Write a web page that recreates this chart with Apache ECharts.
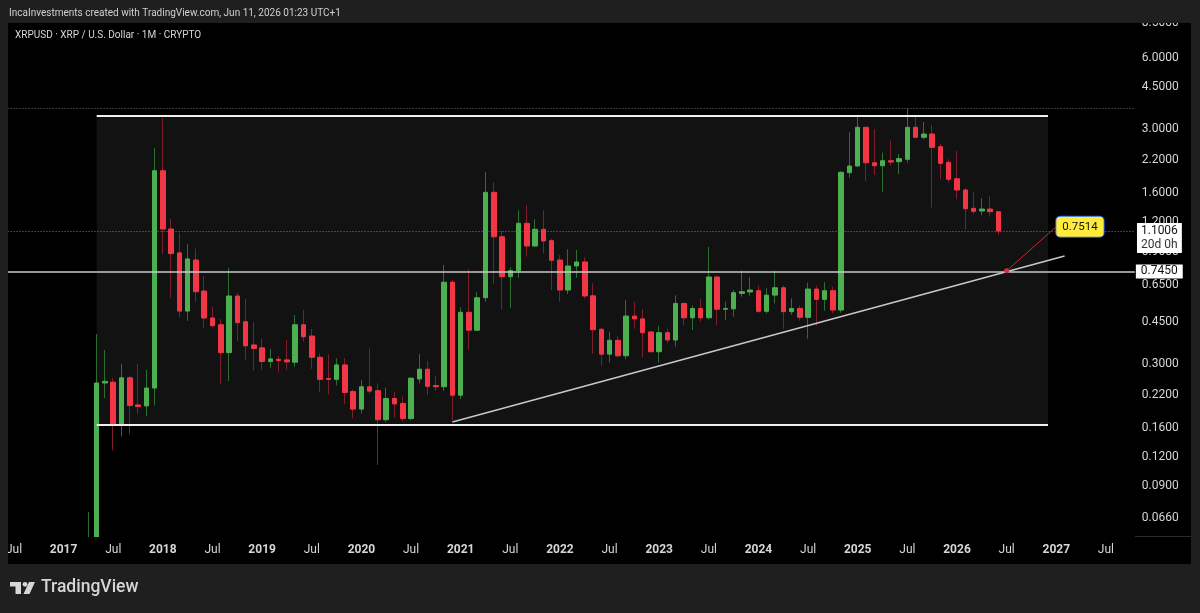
<!DOCTYPE html>
<html>
<head>
<meta charset="utf-8">
<title>XRPUSD 1M</title>
<script src="https://cdn.jsdelivr.net/npm/echarts@6/dist/echarts.min.js"></script>
<style>
  html, body { margin: 0; padding: 0; background: #1f1f1f; }
  #chart { width: 1200px; height: 613px; }
</style>
</head>
<body>
<div id="chart"></div>
<script>
// monthly candles, the first one is Apr 2017, the last one Jun 2026
const firstCandle = '2017-04';
const opens = [
  0.031, 0.052, 0.248, 0.250, 0.165, 0.261, 0.200, 0.198, 0.236,
  1.987, 1.122, 0.888, 0.502, 0.828, 0.611, 0.469, 0.439, 0.334, 0.582, 0.452, 0.360,
  0.350, 0.306, 0.313, 0.311, 0.304, 0.439, 0.393, 0.319, 0.259, 0.257, 0.296, 0.228,
  0.192, 0.239, 0.230, 0.173, 0.213, 0.203, 0.175, 0.258, 0.284, 0.242, 0.239, 0.666,
  0.220, 0.496, 0.416, 0.572, 1.608, 1.040, 0.703, 0.746, 1.187, 0.950, 1.119, 1.001,
  0.828, 0.617, 0.781, 0.812, 0.583, 0.420, 0.329, 0.377, 0.324, 0.478, 0.465, 0.409,
  0.337, 0.406, 0.378, 0.541, 0.470, 0.515, 0.470, 0.701, 0.511, 0.513, 0.597, 0.605,
  0.613, 0.501, 0.587, 0.631, 0.499, 0.515, 0.472, 0.623, 0.563, 0.613, 0.507, 1.949,
  2.081, 3.042, 2.149, 2.087, 2.192, 2.171, 2.223, 3.042, 2.758, 2.848, 2.515, 2.158,
  1.837, 1.645, 1.374, 1.339, 1.365, 1.330
];
const closes = [
  0.052, 0.248, 0.252, 0.165, 0.261, 0.199, 0.197, 0.236, 1.987,
  1.122, 0.882, 0.502, 0.837, 0.607, 0.469, 0.435, 0.334, 0.582, 0.448, 0.357, 0.348,
  0.306, 0.314, 0.309, 0.305, 0.439, 0.390, 0.319, 0.257, 0.257, 0.296, 0.226, 0.192,
  0.239, 0.229, 0.173, 0.213, 0.202, 0.175, 0.260, 0.284, 0.240, 0.239, 0.666, 0.220,
  0.496, 0.416, 0.572, 1.608, 1.040, 0.703, 0.746, 1.187, 0.950, 1.119, 0.998, 0.826,
  0.617, 0.781, 0.812, 0.582, 0.418, 0.329, 0.377, 0.324, 0.478, 0.465, 0.406, 0.337,
  0.406, 0.378, 0.541, 0.470, 0.515, 0.470, 0.701, 0.511, 0.515, 0.601, 0.607, 0.617,
  0.501, 0.587, 0.631, 0.499, 0.515, 0.472, 0.623, 0.563, 0.613, 0.507, 1.956, 2.081,
  3.042, 2.149, 2.087, 2.192, 2.164, 2.236, 3.042, 2.758, 2.848, 2.500, 2.137, 1.827,
  1.645, 1.369, 1.335, 1.365, 1.330, 1.1006
];
const lows = [
  0.028, 0.048, 0.214, 0.128, 0.147, 0.150, 0.183, 0.179, 0.199,
  0.879, 0.571, 0.473, 0.456, 0.548, 0.427, 0.427, 0.246, 0.253, 0.374, 0.312, 0.280,
  0.282, 0.288, 0.275, 0.282, 0.291, 0.372, 0.285, 0.226, 0.222, 0.242, 0.201, 0.175,
  0.184, 0.223, 0.111, 0.169, 0.177, 0.170, 0.172, 0.247, 0.220, 0.230, 0.229, 0.172,
  0.212, 0.343, 0.414, 0.550, 0.655, 0.510, 0.518, 0.696, 0.856, 0.944, 0.885, 0.617,
  0.550, 0.593, 0.696, 0.567, 0.330, 0.293, 0.303, 0.318, 0.313, 0.422, 0.318, 0.334,
  0.303, 0.366, 0.354, 0.438, 0.417, 0.452, 0.463, 0.438, 0.460, 0.475, 0.578, 0.582,
  0.491, 0.491, 0.541, 0.422, 0.483, 0.457, 0.383, 0.434, 0.504, 0.491, 0.494, 1.855,
  2.070, 1.796, 1.905, 1.618, 2.081, 1.924, 2.149, 2.740, 2.704, 1.386, 1.827, 1.774,
  1.502, 1.119, 1.300, 1.284, 1.266, 1.058
];
const highs = [
  0.070, 0.401, 0.343, 0.261, 0.299, 0.265, 0.299, 0.282, 2.483,
  3.332, 1.238, 1.082, 0.969, 0.926, 0.708, 0.522, 0.465, 0.768, 0.601, 0.565, 0.451,
  0.383, 0.346, 0.323, 0.378, 0.483, 0.507, 0.421, 0.332, 0.329, 0.316, 0.316, 0.233,
  0.255, 0.348, 0.247, 0.237, 0.228, 0.217, 0.262, 0.329, 0.307, 0.266, 0.788, 0.681,
  0.521, 0.757, 0.603, 1.962, 1.774, 1.097, 0.771, 1.348, 1.420, 1.235, 1.348, 1.021,
  0.868, 0.920, 0.914, 0.851, 0.659, 0.427, 0.409, 0.393, 0.559, 0.550, 0.511, 0.410,
  0.434, 0.422, 0.586, 0.545, 0.531, 0.565, 0.941, 0.710, 0.550, 0.617, 0.746, 0.699,
  0.642, 0.628, 0.746, 0.647, 0.569, 0.531, 0.663, 0.644, 0.666, 0.638, 1.980, 2.896,
  3.391, 3.059, 2.991, 2.371, 2.668, 2.341, 3.664, 3.398, 3.204, 3.120, 2.583, 2.223,
  2.418, 1.677, 1.608, 1.516, 1.548, 1.330
];

// price scale labels (log scale)
const priceTicks = [8.5, 6, 4.5, 3, 2.2, 1.6, 1.2, 0.9, 0.65, 0.45, 0.3, 0.22, 0.16, 0.12, 0.09, 0.066];

// drawings
const boxFrom = '2017-05', boxTo = '2026-12';
const boxTop = 3.408, boxBottom = 0.1651;
const trendStart = ['2020-12', 0.1691], trendEnd = ['2027-02', 0.861];
const supportLevel = 0.745;
const highLevel = 3.675;
const lastPrice = 1.1006, countdown = '20d 0h';
const arrowStart = ['2026-07', 0.745], arrowEnd = ['2027-01', 1.148];
const arrowText = '0.7514';

// time scale: Jun 2016 .. Oct 2027
const months = [];
for (let y = 2016, m = 6; y * 100 + m <= 202710; m++) {
  if (m > 12) { m = 1; y++; }
  months.push(y + '-' + String(m).padStart(2, '0'));
}
const monthNames = ['Jan','Feb','Mar','Apr','May','Jun','Jul','Aug','Sep','Oct','Nov','Dec'];

const offset = months.indexOf(firstCandle);
const wickData = months.map((m, i) => {
  const k = i - offset;
  if (k < 0 || k >= opens.length) return '-';
  return [opens[k], closes[k], lows[k], highs[k]];
});
const bodyData = months.map((m, i) => {
  const k = i - offset;
  if (k < 0 || k >= opens.length) return '-';
  return [opens[k], closes[k], Math.min(opens[k], closes[k]), Math.max(opens[k], closes[k])];
});

const FONT = 'Roboto, "Noto Sans", sans-serif';
const BG = '#1f1f1f';
const TXT = '#d6d6d6';

const chart = echarts.init(document.getElementById('chart'));

const option = {
  animation: false,
  backgroundColor: BG,
  textStyle: { fontFamily: FONT },
  grid: {
    left: 1.56, top: 22.5, width: 1133.3, height: 514.1,
    containLabel: false, outerBoundsMode: 'none'
  },
  xAxis: {
    type: 'category',
    z: 10,
    data: months,
    boundaryGap: true,
    axisLine: { show: false },
    axisTick: { show: false },
    splitLine: { show: false },
    axisLabel: {
      interval: (i, v) => v.endsWith('-01') || v.endsWith('-07'),
      formatter: v => v.endsWith('-01') ? '{y|' + v.slice(0, 4) + '}' : '{m|' + monthNames[+v.slice(5) - 1] + '}',
      margin: 7,
      rich: {
        y: { color: TXT, fontSize: 12, fontWeight: 'bold', fontFamily: FONT },
        m: { color: TXT, fontSize: 12, fontFamily: FONT }
      }
    }
  },
  yAxis: {
    type: 'log',
    logBase: 10,
    position: 'right',
    min: 0.055,
    max: 8.5001,
    axisLine: { show: false },
    axisTick: { show: false },
    splitLine: { show: false },
    axisLabel: {
      customValues: priceTicks,
      formatter: v => Number(v).toFixed(4),
      color: TXT, fontSize: 12, fontFamily: FONT, margin: 7
    }
  },
  series: [
    {
      name: 'wicks',
      type: 'candlestick',
      data: wickData,
      barWidth: 1,
      z: 2,
      silent: true,
      itemStyle: {
        color: '#2d6e31', color0: '#7d1f2a',
        borderColor: '#2d6e31', borderColor0: '#7d1f2a', borderWidth: 1
      }
    },
    {
      name: 'XRPUSD',
      type: 'candlestick',
      data: bodyData,
      barWidth: 5,
      z: 2,
      silent: true,
      itemStyle: {
        color: '#4caf50', color0: '#f23645',
        borderColor: '#4caf50', borderColor0: '#f23645', borderWidth: 1
      },
      markArea: {
        silent: true,
        itemStyle: { color: '#121212' },
        data: [[{ coord: [boxFrom, boxTop] }, { coord: [boxTo, boxBottom] }]]
      },
      markLine: {
        silent: true,
        symbol: 'none',
        animation: false,
        label: { show: false },
        data: [
          [{ coord: [boxFrom, boxTop] }, { coord: [boxTo, boxTop] }],
          [{ coord: [boxFrom, boxBottom] }, { coord: [boxTo, boxBottom] }],
          [{ coord: trendStart }, { coord: trendEnd, lineStyle: { color: '#c8c8c8', width: 1.5, type: 'solid' } }],
          {
            yAxis: highLevel,
            lineStyle: { color: '#6e6e6e', width: 1, type: [1, 2] }
          },
          {
            yAxis: lastPrice,
            lineStyle: { color: '#7a7a7a', width: 1, type: [1, 2] },
            label: {
              show: true,
              position: 'insideEndBottom',
              distance: [-47, -8],
              formatter: '{p|' + lastPrice.toFixed(4) + '}\n{c|' + countdown + '}',
              backgroundColor: '#ffffff',
              padding: [1, 4, 1, 4],
              rich: {
                p: { color: '#111', fontSize: 12, lineHeight: 14, fontFamily: FONT, align: 'center' },
                c: { color: '#333', fontSize: 12, lineHeight: 14, fontFamily: FONT, align: 'center' }
              }
            }
          },
          {
            yAxis: supportLevel,
            lineStyle: { color: '#c8c8c8', width: 1.5, type: 'solid' },
            label: {
              show: true,
              position: 'end',
              distance: 1,
              formatter: supportLevel.toFixed(4),
              backgroundColor: '#ffffff',
              color: '#111',
              fontSize: 12,
              fontFamily: FONT,
              lineHeight: 14,
              padding: [0, 5, 0, 5]
            }
          }
        ],
        lineStyle: { color: '#f0f0f0', width: 2, type: 'solid' }
      }
    },
    {
      name: 'arrow',
      type: 'line',
      z: 6,
      silent: true,
      data: [
        { value: arrowStart, symbol: 'circle', symbolSize: 5 },
        { value: arrowEnd, symbol: 'none' }
      ],
      endLabel: {
        show: true,
        distance: 0,
        formatter: arrowText,
        color: '#111',
        fontSize: 11.5,
        fontFamily: FONT,
        backgroundColor: '#ffeb3b',
        borderColor: '#2962ff',
        borderWidth: 1,
        borderRadius: 4,
        padding: [4, 6, 4, 6]
      },
      itemStyle: { color: '#d32f3f' },
      lineStyle: { color: '#c62836', width: 1 }
    }
  ],
  graphic: [
    { type: 'rect', z: -10, silent: true, shape: { x: 8, y: 23, width: 1183, height: 541 }, style: { fill: '#000000' } },
    // time scale strip, hides candle parts below the price range
    { type: 'rect', z: 5, silent: true, shape: { x: 8, y: 537, width: 1127, height: 27 }, style: { fill: '#000000' } },
    { type: 'rect', z: 100, silent: true, shape: { x: 0, y: 0, width: 1200, height: 23 }, style: { fill: BG } },
    { type: 'rect', z: 100, silent: true, shape: { x: 0, y: 23, width: 8, height: 541 }, style: { fill: BG } },
    { type: 'rect', z: 100, silent: true, shape: { x: 0, y: 564, width: 1200, height: 49 }, style: { fill: BG } },
    { type: 'line', z: 100, silent: true, shape: { x1: 1135, y1: 536.5, x2: 1191, y2: 536.5 }, style: { stroke: '#2b2b2b', lineWidth: 1 } },
    {
      type: 'text', z: 101, silent: true, x: 9, y: 13,
      style: { text: 'IncaInvestments created with TradingView.com, Jun 11, 2026 01:23 UTC+1', fill: '#d0d0d0', font: '10px ' + FONT, verticalAlign: 'middle' }
    },
    {
      type: 'text', z: 101, silent: true, x: 15, y: 35,
      style: { text: 'XRPUSD · XRP / U.S. Dollar · 1M · CRYPTO', fill: '#d6d6d6', font: '10px ' + FONT, verticalAlign: 'middle' }
    },
    // TradingView logo
    { type: 'rect', z: 101, silent: true, shape: { x: 10, y: 582, width: 11, height: 4.5 }, style: { fill: '#d6d6d6' } },
    { type: 'rect', z: 101, silent: true, shape: { x: 15.5, y: 582, width: 5.5, height: 12 }, style: { fill: '#d6d6d6' } },
    { type: 'circle', z: 101, silent: true, shape: { cx: 25, cy: 584.3, r: 2.4 }, style: { fill: '#d6d6d6' } },
    { type: 'polygon', z: 101, silent: true, shape: { points: [[29, 582], [35, 582], [29.5, 594], [23.5, 594]] }, style: { fill: '#d6d6d6' } },
    {
      type: 'text', z: 101, silent: true, x: 41, y: 588,
      style: { text: 'TradingView', fill: '#d6d6d6', font: '500 17.5px ' + FONT, verticalAlign: 'middle' }
    }
  ]
};

chart.setOption(option);
</script>
</body>
</html>
